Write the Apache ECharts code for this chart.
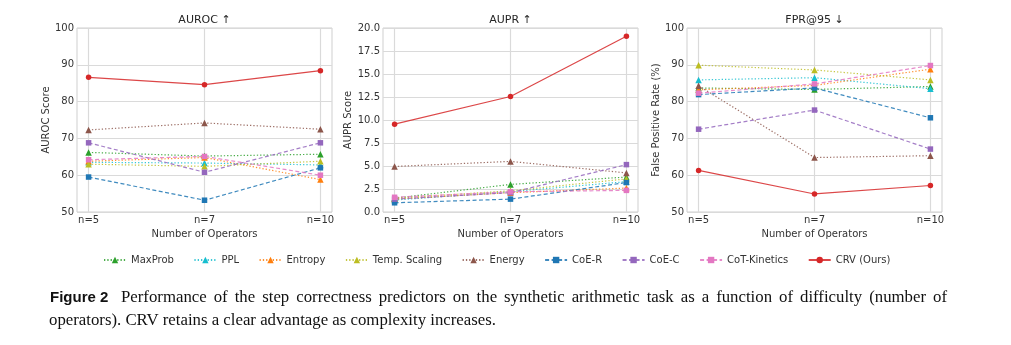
<!DOCTYPE html>
<html><head><meta charset="utf-8">
<script src="https://cdn.jsdelivr.net/npm/echarts@6/dist/echarts.min.js"></script>
<style>html,body{margin:0;padding:0;background:#fff}#c{width:1011px;height:345px}</style>
</head><body><div id="c"></div>
<script>
const categories = ['n=5', 'n=7', 'n=10'];
const methods = ['MaxProb', 'PPL', 'Entropy', 'Temp. Scaling', 'Energy', 'CoE-R', 'CoE-C', 'CoT-Kinetics', 'CRV (Ours)'];
const panelTitles = ['AUROC \u2191', 'AUPR \u2191', 'FPR@95 \u2193'];
const yNames = ['AUROC Score', 'AUPR Score', 'False Positive Rate (%)'];
const aurocValues = [
  [66.2, 65.2, 65.7],
  [63.5, 63.3, 62.8],
  [63.8, 64.8, 58.8],
  [63.0, 62.4, 63.8],
  [72.3, 74.2, 72.5],
  [59.5, 53.2, 62.0],
  [68.8, 60.8, 68.8],
  [64.2, 65.1, 60.0],
  [86.6, 84.6, 88.4]
];
const auprValues = [
  [1.5, 3.0, 3.8],
  [1.3, 2.2, 3.3],
  [1.4, 2.1, 2.6],
  [1.5, 2.3, 3.6],
  [4.95, 5.5, 4.25],
  [1.0, 1.4, 3.2],
  [1.4, 2.1, 5.15],
  [1.6, 2.2, 2.35],
  [9.55, 12.55, 19.1]
];
const fprValues = [
  [83.7, 83.3, 84.1],
  [85.9, 86.5, 83.5],
  [83.2, 84.4, 88.8],
  [89.9, 88.6, 85.9],
  [84.3, 64.8, 65.3],
  [81.9, 83.7, 75.6],
  [72.5, 77.7, 67.1],
  [82.3, 84.8, 89.8],
  [61.3, 54.9, 57.2]
];
const captionBold = 'Figure 2';
const captionLine1 = 'Performance of the step correctness predictors on the synthetic arithmetic task as a function of difficulty (number of';
const captionLine2 = 'operators). CRV retains a clear advantage as complexity increases.';

const colors = ['#2ca02c', '#17becf', '#ff7f0e', '#bcbd22', '#8c564b', '#1f77b4', '#9467bd', '#e377c2', '#d62728'];
const symbols = ['triangle', 'triangle', 'triangle', 'triangle', 'triangle', 'rect', 'rect', 'rect', 'circle'];
const dashes = [[1.3, 2], [1.3, 2], [1.3, 2], [1.3, 2], [1.3, 2], [4, 2.5], [4, 2.5], [4, 2.5], 'solid'];
const allValues = [aurocValues, auprValues, fprValues];
const yRanges = [[50, 100, 10], [0, 20, 2.5], [50, 100, 10]];
const gridLefts = [77, 383, 687];
const gridWidth = 255;
const nameGaps = [23, 26, 24];
const FONT = 'DejaVu Sans';

const grids = [], xAxes = [], yAxes = [], series = [], graphics = [];
for (let i = 0; i < 3; i++) {
  grids.push({left: gridLefts[i], top: 28, width: gridWidth, height: 184, show: true,
    borderColor: '#cfcfcf', borderWidth: 1, backgroundColor: '#fff'});
  xAxes.push({type: 'value', gridIndex: i, min: -0.1, max: 2.1,
    axisLine: {show: false},
    axisTick: {show: false, customValues: [0, 1, 2]},
    axisLabel: {customValues: [0, 1, 2], formatter: v => categories[Math.round(v)], color: '#333',
      fontFamily: FONT, fontSize: 10, margin: 3},
    splitLine: {show: true, lineStyle: {color: '#dadada', width: 1.2}},
    name: 'Number of Operators', nameLocation: 'middle', nameGap: 14,
    nameTextStyle: {color: '#333', fontFamily: FONT, fontSize: 10}});
  const r = yRanges[i];
  yAxes.push({type: 'value', gridIndex: i, min: r[0], max: r[1], interval: r[2],
    axisLine: {show: false}, axisTick: {show: false},
    axisLabel: {color: '#333', fontFamily: FONT, fontSize: 10, margin: 3,
      formatter: v => (i === 1 ? v.toFixed(1) : String(v))},
    splitLine: {show: true, lineStyle: {color: '#dadada', width: 1.2}},
    name: yNames[i], nameLocation: 'middle', nameGap: nameGaps[i],
    nameTextStyle: {color: '#333', fontFamily: FONT, fontSize: 10}});
  graphics.push({type: 'text', x: gridLefts[i] + gridWidth / 2, y: 20,
    style: {text: panelTitles[i], font: '11px "DejaVu Sans"', fill: '#262626',
      textAlign: 'center', textVerticalAlign: 'middle', align: 'center', verticalAlign: 'middle'}});
  for (let j = 0; j < methods.length; j++) {
    series.push({type: 'line', name: methods[j], xAxisIndex: i, yAxisIndex: i,
      data: allValues[i][j].map((v, k) => [k, v]),
      symbol: symbols[j], symbolSize: symbols[j] === 'triangle' ? 6.5 : 5.5,
      showSymbol: true,
      lineStyle: {color: colors[j], width: 1.2, type: dashes[j], opacity: 0.85},
      itemStyle: {color: colors[j], opacity: 1},
      emphasis: {disabled: true}, animation: false, z: 2 + j});
  }
}

// caption
const SERIF = '16.8px "Liberation Serif"';
function txt(text, x, y, font) {
  return {type: 'text', x: x, y: y,
    style: {text: text, font: font, fill: '#111',
      textAlign: 'left', textVerticalAlign: 'middle', align: 'left', verticalAlign: 'middle'}};
}
graphics.push(txt(captionBold, 50, 297.5, 'bold 15px "Liberation Sans"'));
// justified first line (words spread between 121 and 947)
(function () {
  const ctx = document.createElement('canvas').getContext('2d');
  ctx.font = SERIF;
  const words = captionLine1.split(' ');
  const widths = words.map(w => ctx.measureText(w).width);
  const total = widths.reduce((a, b) => a + b, 0);
  const x0 = 121, x1 = 947;
  const gap = (x1 - x0 - total) / (words.length - 1);
  let x = x0;
  words.forEach((w, k) => { graphics.push(txt(w, x, 297.5, SERIF)); x += widths[k] + gap; });
})();
graphics.push(txt(captionLine2, 49, 321, SERIF));

const chart = echarts.init(document.getElementById('c'), null, {renderer: 'canvas'});
chart.setOption({
  backgroundColor: '#fff',
  animation: false,
  grid: grids, xAxis: xAxes, yAxis: yAxes, series: series,
  legend: {data: methods, left: 98, top: 250, itemWidth: 22, itemHeight: 8, itemGap: 19.5,
    textStyle: {color: '#333', fontFamily: FONT, fontSize: 10}},
  graphic: graphics
});
</script></body></html>
